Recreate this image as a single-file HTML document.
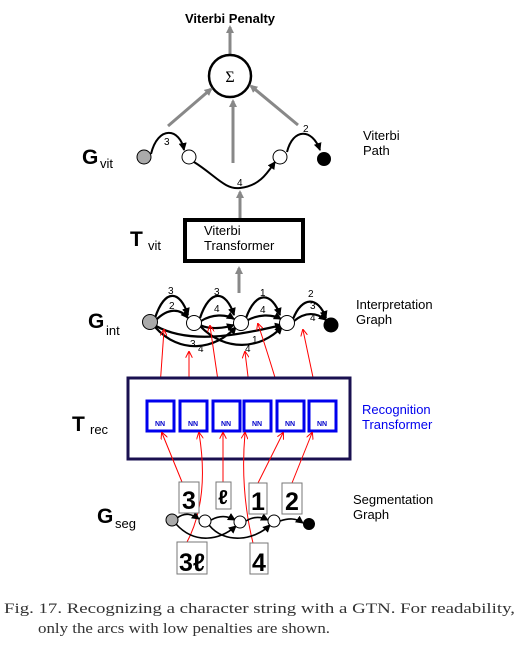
<!DOCTYPE html>
<html><head><meta charset="utf-8"><style>
html,body{margin:0;padding:0;background:#fff;}
svg{display:block;}
text{font-family:"Liberation Sans",sans-serif;}
text.serif{font-family:"Liberation Serif",serif;}
</style></head><body>
<svg width="519" height="645" viewBox="0 0 519 645" xmlns="http://www.w3.org/2000/svg">
<defs>
<marker id="ga" markerWidth="8" markerHeight="8" refX="6" refY="4" orient="auto" markerUnits="userSpaceOnUse"><path d="M0,0 L8,4 L0,8 z" fill="#888"/></marker>
<marker id="ba" markerWidth="8" markerHeight="8" refX="7" refY="4" orient="auto" markerUnits="userSpaceOnUse"><path d="M0,0 L8,4 L0,8 z" fill="#000"/></marker>
<marker id="ra" markerWidth="7" markerHeight="7" refX="6" refY="3.5" orient="auto" markerUnits="userSpaceOnUse"><path d="M0,0 L7,3.5 L0,7" fill="none" stroke="red" stroke-width="1"/></marker>
</defs>

<text x="230" y="23" font-size="13" font-weight="bold" text-anchor="middle">Viterbi Penalty</text>
<line x1="230" y1="54" x2="230" y2="27" stroke="#888" stroke-width="3" marker-end="url(#ga)"/>
<circle cx="230" cy="76" r="21" fill="#fff" stroke="#000" stroke-width="2.5"/>
<text x="230" y="82" font-size="16" text-anchor="middle" class="serif" style="font-family:'Liberation Serif',serif">Σ</text>
<line x1="168" y1="126" x2="211" y2="89" stroke="#888" stroke-width="3" marker-end="url(#ga)"/>
<line x1="233" y1="163" x2="233" y2="101" stroke="#888" stroke-width="3" marker-end="url(#ga)"/>
<line x1="298" y1="125" x2="251" y2="86" stroke="#888" stroke-width="3" marker-end="url(#ga)"/>

<text x="82" y="164" font-size="21" font-weight="bold">G</text><text x="100" y="168" font-size="13">vit</text>
<path d="M151,154 C158,125 180,128 184,150" fill="none" stroke="#000" stroke-width="2" marker-end="url(#ba)"/>
<text x="164" y="145" font-size="10">3</text>
<path d="M194,162 C215,175 225,190 240,188 C260,186 268,172 275,162" fill="none" stroke="#000" stroke-width="2" marker-end="url(#ba)"/>
<text x="237" y="186" font-size="10">4</text>
<path d="M287,152 C293,128 312,128 320,150" fill="none" stroke="#000" stroke-width="2" marker-end="url(#ba)"/>
<text x="303" y="132" font-size="10">2</text>
<circle cx="144" cy="157" r="7" fill="#aaa" stroke="#000" stroke-width="1"/>
<circle cx="189" cy="157" r="7" fill="#fff" stroke="#000" stroke-width="1"/>
<circle cx="280" cy="157" r="7" fill="#fff" stroke="#000" stroke-width="1"/>
<circle cx="324" cy="159" r="7" fill="#000"/>
<text x="363" y="140" font-size="13">Viterbi</text>
<text x="363" y="155" font-size="13">Path</text>
<line x1="240" y1="219" x2="240" y2="192" stroke="#888" stroke-width="3" marker-end="url(#ga)"/>

<rect x="185" y="220" width="118" height="41" fill="#fff" stroke="#000" stroke-width="4"/>
<text x="204" y="235" font-size="13">Viterbi</text>
<text x="204" y="250" font-size="13">Transformer</text>
<text x="130" y="246" font-size="21" font-weight="bold">T</text><text x="148" y="250" font-size="13">vit</text>
<line x1="239" y1="293" x2="239" y2="268" stroke="#888" stroke-width="3" marker-end="url(#ga)"/>

<text x="88" y="328" font-size="21" font-weight="bold">G</text><text x="106" y="335" font-size="13">int</text>
<g fill="none" stroke="#000" stroke-width="2.2">
<path d="M155,318 C165,288 180,290 188,315" marker-end="url(#ba)"/>
<path d="M156,320 C168,308 180,308 188,318" marker-end="url(#ba)"/>
<path d="M200,318 C210,288 226,290 234,315" marker-end="url(#ba)"/>
<path d="M201,321 C212,314 226,314 234,319" marker-end="url(#ba)"/>
<path d="M246,318 C256,290 272,292 280,315" marker-end="url(#ba)"/>
<path d="M246,321 C258,314 272,314 281,319" marker-end="url(#ba)"/>
<path d="M293,319 C302,296 318,296 326,318" marker-end="url(#ba)"/>
<path d="M294,321 C305,312 316,312 326,320" marker-end="url(#ba)"/>
<path d="M155,327 C180,355 215,350 236,327" marker-end="url(#ba)"/>
<path d="M200,326 C225,352 260,350 282,327" marker-end="url(#ba)"/>
<path d="M156,326 C190,345 240,335 282,325" marker-end="url(#ba)"/>
<path d="M200,325 C210,330 225,328 234,325" marker-end="url(#ba)"/>
</g>
<g font-size="10">
<text x="168" y="294">3</text><text x="169" y="309">2</text>
<text x="214" y="295">3</text><text x="214" y="312">4</text>
<text x="260" y="296">1</text><text x="260" y="313">4</text>
<text x="308" y="297">2</text><text x="310" y="309">3</text><text x="310" y="321">4</text>
<text x="190" y="347">3</text><text x="198" y="352">4</text>
<text x="252" y="343">1</text><text x="245" y="352">4</text>
</g>
<circle cx="150" cy="322" r="7.5" fill="#aaa" stroke="#000" stroke-width="1"/>
<circle cx="194" cy="323" r="7.5" fill="#fff" stroke="#000" stroke-width="1"/>
<circle cx="241" cy="323" r="7.5" fill="#fff" stroke="#000" stroke-width="1"/>
<circle cx="287" cy="323" r="7.5" fill="#fff" stroke="#000" stroke-width="1"/>
<circle cx="331" cy="325" r="7.5" fill="#000"/>
<text x="356" y="309" font-size="13">Interpretation</text>
<text x="356" y="324" font-size="13">Graph</text>

<g stroke="red" stroke-width="1" fill="none" marker-end="url(#ra)">
<path d="M159,401 L164,330"/>
<path d="M189,401 L189,352"/>
<path d="M221,401 L210,326"/>
<path d="M251,401 L245,352"/>
<path d="M282,401 Q270,360 258,324"/>
<path d="M318,401 L303,330"/>
</g>

<rect x="128" y="378" width="222" height="81" fill="#fff" stroke="#1a1050" stroke-width="3"/>
<g fill="#fff" stroke="#0000ee" stroke-width="3">
<rect x="147" y="401" width="27" height="30"/><rect x="180" y="401" width="27" height="30"/>
<rect x="213" y="401" width="27" height="30"/><rect x="244" y="401" width="27" height="30"/>
<rect x="277" y="401" width="27" height="30"/><rect x="309" y="401" width="27" height="30"/>
</g>
<g font-size="7" font-weight="bold" fill="#0000cc" text-anchor="middle">
<text x="160" y="426">NN</text><text x="193" y="426">NN</text><text x="226" y="426">NN</text>
<text x="257" y="426">NN</text><text x="290" y="426">NN</text><text x="322" y="426">NN</text>
</g>
<text x="362" y="414" font-size="13" fill="#0000ee">Recognition</text>
<text x="362" y="429" font-size="13" fill="#0000ee">Transformer</text>
<text x="72" y="431" font-size="21" font-weight="bold">T</text><text x="90" y="434" font-size="13">rec</text>

<g stroke="red" stroke-width="1" fill="none" marker-end="url(#ra)">
<path d="M182,482 L162,433"/>
<path d="M186,544 Q210,500 199,433"/>
<path d="M223,482 L223,433"/>
<path d="M253,543 Q240,490 245,433"/>
<path d="M258,483 L283,433"/>
<path d="M292,483 L312,433"/>
</g>

<text x="97" y="523" font-size="21" font-weight="bold">G</text><text x="115" y="528" font-size="13">seg</text>
<g fill="none" stroke="#000" stroke-width="1.6">
<path d="M177,518 C185,512 192,514 199,519" marker-end="url(#ba)"/>
<path d="M211,520 C220,515 228,516 235,520" marker-end="url(#ba)"/>
<path d="M246,521 C254,516 262,517 268,520" marker-end="url(#ba)"/>
<path d="M280,521 C289,518 296,518 303,523" marker-end="url(#ba)"/>
<path d="M176,524 C195,545 220,540 236,526" marker-end="url(#ba)"/>
<path d="M209,525 C225,545 255,540 270,525" marker-end="url(#ba)"/>
</g>
<circle cx="172" cy="520" r="6" fill="#aaa" stroke="#000" stroke-width="1"/>
<circle cx="205" cy="521" r="6" fill="#fff" stroke="#000" stroke-width="1"/>
<circle cx="240" cy="522" r="6" fill="#fff" stroke="#000" stroke-width="1"/>
<circle cx="274" cy="521" r="6" fill="#fff" stroke="#000" stroke-width="1"/>
<circle cx="309" cy="524" r="6" fill="#000"/>
<g fill="#fff" stroke="#777" stroke-width="1">
<rect x="179" y="482" width="20" height="31"/><rect x="216" y="482" width="15" height="27"/>
<rect x="249" y="483" width="18" height="31"/><rect x="282" y="483" width="20" height="31"/>
<rect x="177" y="542" width="30" height="32"/><rect x="250" y="543" width="18" height="31"/>
</g>
<g font-size="25" font-weight="bold" text-anchor="middle">
<text x="189" y="509">3</text><text x="223" y="504" font-size="20">ℓ</text>
<text x="258" y="510">1</text><text x="292" y="510">2</text>
<text x="192" y="571">3ℓ</text><text x="259" y="571">4</text>
</g>
<text x="353" y="504" font-size="13">Segmentation</text>
<text x="353" y="519" font-size="13">Graph</text>

<text x="4" y="613" font-size="15" class="serif" style="font-family:'Liberation Serif',serif" textLength="511" lengthAdjust="spacingAndGlyphs" fill="#333">Fig. 17.  Recognizing a character string with a GTN. For readability,</text>
<text x="38" y="633" font-size="15" class="serif" style="font-family:'Liberation Serif',serif" textLength="292" lengthAdjust="spacingAndGlyphs" fill="#333">only the arcs with low penalties are shown.</text>
</svg>
</body></html>
